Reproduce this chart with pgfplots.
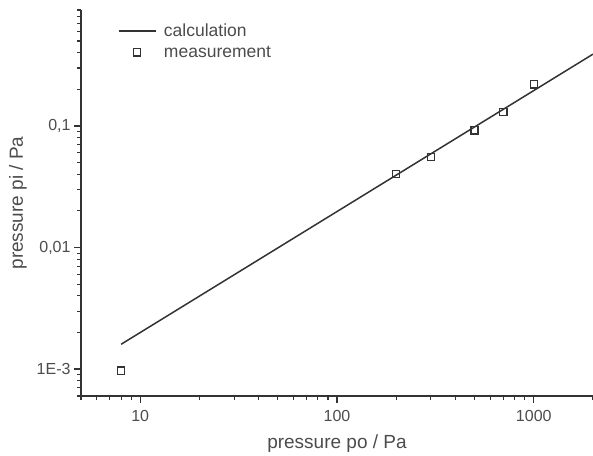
\documentclass[border=0pt]{standalone}
\usepackage{fontspec}
\setmainfont{Liberation Sans}
\usepackage{pgfplots}
\pgfplotsset{compat=1.18}
\usetikzlibrary{calc}
\colorlet{axisColor}{black!80}
\colorlet{textColor}{black!70}
\pgfplotsset{
  lineLegend/.style={legend image code/.code={\draw[##1] (0cm,0cm) -- (1.3cm,0cm);
      \path (1.5cm,0cm);}},
  markLegend/.style={legend image code/.code={\draw[mark repeat=2,mark phase=2,##1]
        plot coordinates {(0cm,0cm) (0.65cm,0cm) (1.3cm,0cm)};
      \path (0cm,0cm) (1.5cm,0cm);}},
}

\begin{document}
\begin{tikzpicture}
  \begin{axis}[
    name=ax,
    xmode=log, ymode=log,
    scale only axis,
    width=512bp, height=386bp,
    xmin=5, xmax=2000,
    ymin=6e-4, ymax=0.9,
    axis x line*=bottom, axis y line*=left,
    axis line style={axisColor, line width=1.3bp},
    every tick/.style={axisColor, line width=1.1bp},
    tick align=outside,
    major tick length=7bp, minor tick length=4bp,
    xtick={10,100,1000}, xticklabels={10,100,1000},
    minor xtick={5,6,7,8,9,20,30,40,50,60,70,80,90,200,300,400,500,600,700,800,900,2000},
    ytick={0.001,0.01,0.1}, yticklabels={1E-3,{0,01},{0,1}},
    minor ytick={0.0006,0.0007,0.0008,0.0009,0.002,0.003,0.004,0.005,0.006,0.007,0.008,0.009,
      0.02,0.03,0.04,0.05,0.06,0.07,0.08,0.09,0.2,0.3,0.4,0.5,0.6,0.7,0.8,0.9},
    tick label style={font=\fontsize{16bp}{18bp}\selectfont, text=textColor},
    xticklabel style={yshift=-4bp},
    xlabel={pressure po / Pa},
    ylabel={pressure pi / Pa},
    label style={font=\fontsize{19bp}{22bp}\selectfont, text=textColor},
    xlabel style={yshift=-6bp},
    ylabel style={yshift=3bp},
    legend style={draw=none, fill=none, at={(0.066,0.975)}, anchor=north west,
      font=\fontsize{17.5bp}{20bp}\selectfont, text=textColor, row sep=4bp},
    legend cell align=left,
  ]
    \addplot[axisColor, line width=1.5bp, lineLegend]
      coordinates {(8,0.0016)(2000,0.39)};
    \addlegendentry{calculation}
    \addplot[only marks, mark=square, mark size=3.6bp,
      mark options={draw=axisColor, line width=1.3bp}, markLegend]
      coordinates {(8,0.00097)(200,0.0403)(300,0.0556)(500,0.092)(700,0.130)(1000,0.22)};
    \addlegendentry{measurement}
  \end{axis}
  \pgfresetboundingbox
  \path ($(ax.south west)+(-81bp,-60bp)$) rectangle ($(ax.north east)+(0bp,10bp)$);
\end{tikzpicture}
\end{document}
